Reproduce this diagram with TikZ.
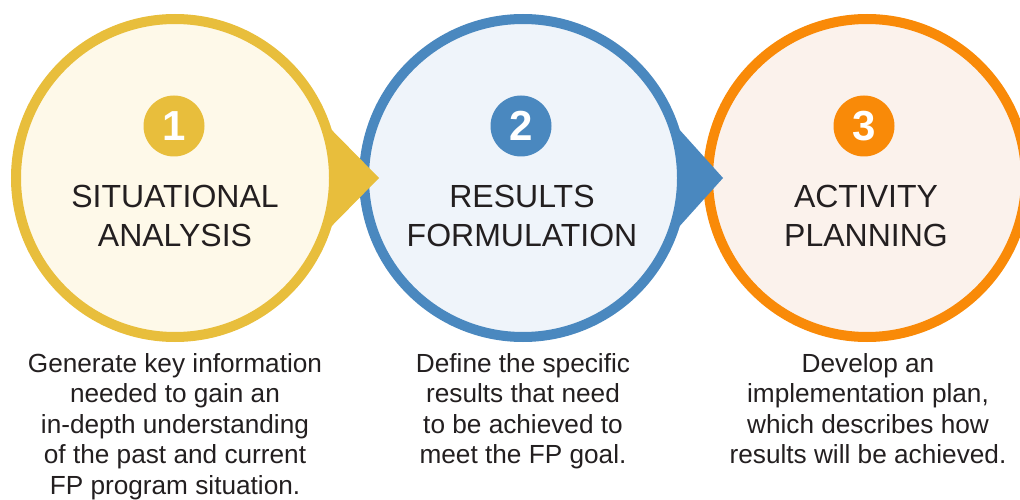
\documentclass[tikz,border=0pt]{standalone}
\usepackage{fontspec}
\setmainfont{Liberation Sans}
\definecolor{ink}{HTML}{231F20}
\definecolor{amber}{HTML}{E8BE3C}
\definecolor{amberbg}{HTML}{FEF9E9}
\definecolor{steel}{HTML}{4A88BF}
\definecolor{steelbg}{HTML}{EFF4FA}
\definecolor{tangerine}{HTML}{F98A08}
\definecolor{tangerinebg}{HTML}{FBF2EC}
\tikzstyle{stage}=[circle,draw,line width=10pt,minimum size=318pt,inner sep=0pt]
\tikzstyle{badge}=[circle,minimum size=61pt,inner sep=0pt,text=white,font=\fontsize{42}{42}\selectfont\bfseries]
\tikzstyle{title}=[align=center,inner sep=0pt,text=ink,font=\fontsize{32}{39}\selectfont]
\tikzstyle{note}=[align=center,anchor=north,inner sep=0pt,text=ink,font=\fontsize{26.2}{30.5}\selectfont]

\begin{document}
\begin{tikzpicture}[x=1pt,y=-1pt]
  \useasboundingbox (0,0) rectangle (1020,500);
  \node[stage,draw=amber,fill=amberbg] (s1) at (175,178) {};
  \node[stage,draw=steel,fill=steelbg] (s2) at (523,178) {};
  \node[stage,draw=tangerine,fill=tangerinebg] (s3) at (867,178) {};
  % pointers between the stages
  \fill[amber] (s1.17) -- ([shift={(20,0)}]s2.west) -- (s1.-17) -- cycle;
  \fill[steel] (s2.17) -- ([shift={(20,0)}]s3.west) -- (s2.-17) -- cycle;
  \node[badge,fill=amber] (b1) at (174,126) {1};
  \node[badge,fill=steel] (b2) at (521,126) {2};
  \node[badge,fill=tangerine] (b3) at (864,126) {3};
  \node[title] (t1) at (175,216) {SITUATIONAL\\ANALYSIS};
  \node[title] (t2) at (522,216) {RESULTS\\FORMULATION};
  \node[title] (t3) at (866,216) {ACTIVITY\\PLANNING};
  \node[note] (n1) at (175,353) {Generate key information\\needed to gain an\\in-depth understanding\\of the past and current\\FP program situation.};
  \node[note] (n2) at (523,353) {Define the specific\\results that need\\to be achieved to\\meet the FP goal.};
  \node[note] (n3) at (868,353) {Develop an\\implementation plan,\\which describes how\\results will be achieved.};
\end{tikzpicture}
\end{document}
